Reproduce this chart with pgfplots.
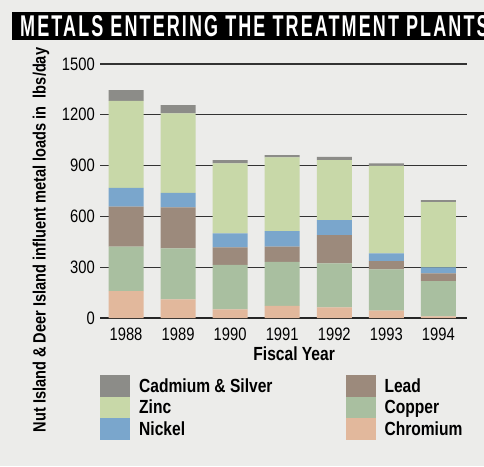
\documentclass[border=0pt]{standalone}
\usepackage{pgfplots}
\pgfplotsset{compat=1.18}
\usepackage{fontspec}
\setmainfont{Liberation Sans}[FakeStretch=0.82]
\newfontfamily\titlefont{Liberation Sans}[FakeStretch=0.6,LetterSpace=7]

\definecolor{bgcol}{HTML}{ECECEA}
\definecolor{cadcol}{HTML}{8C8C88}
\definecolor{zinccol}{HTML}{C8D8A8}
\definecolor{nickcol}{HTML}{7AA6CC}
\definecolor{leadcol}{HTML}{9C8A7C}
\definecolor{coppcol}{HTML}{A9BFA0}
\definecolor{chromcol}{HTML}{E2B89C}

\begin{document}
\begin{tikzpicture}
\fill[bgcol] (0pt,0pt) rectangle (484pt,466pt);
\begin{scope}
  \clip (0pt,0pt) rectangle (484pt,466pt);
  \fill[black] (12pt,426pt) rectangle (484pt,454pt);
  \node[anchor=west, text=white, inner sep=0pt, font=\titlefont\bfseries\fontsize{30}{30}\selectfont]
    at (20pt,440pt) {METALS ENTERING THE TREATMENT PLANTS};
\end{scope}

\node[rotate=90, inner sep=0pt, font=\bfseries\fontsize{17.8}{17.8}\selectfont]
  at (41pt,226pt) {Nut Island \& Deer Island influent metal loads in\ \ lbs/day};

\begin{axis}[
  at={(100pt,148pt)}, anchor=south west,
  scale only axis, width=367pt, height=254pt,
  ybar stacked, bar width=35pt,
  xmin=-0.5, xmax=6.55, ymin=0, ymax=1500,
  xtick={0,...,6},
  xticklabels={1988,1989,1990,1991,1992,1993,1994},
  ytick={0,300,...,1500},
  /pgf/number format/assume math mode=true,
  /pgf/number format/1000 sep={},
  ymajorgrids, grid style={black!80, line width=1.1pt},
  axis x line*=bottom, axis y line*=left,
  y axis line style={draw=none},
  x axis line style={black!85, line width=1.4pt},
  tick style={draw=none},
  ticklabel style={font=\fontsize{18}{18}\selectfont},
  yticklabel style={inner sep=0pt, xshift=-5pt},
  xticklabel style={inner sep=0pt, yshift=-9.5pt},
  xlabel={Fiscal Year},
  xlabel style={at={(axis description cs:0.529,0)}, anchor=center, yshift=-36pt,
    font=\bfseries\fontsize{19}{19}\selectfont},
  legend columns=3, transpose legend, reverse legend,
  legend cell align=left,
  legend image code/.code={\fill[#1] (0pt,-10.75pt) rectangle (30pt,10.75pt);},
  legend style={draw=none, fill=none, at={(0,-0.2244)}, anchor=north west,
    inner sep=0pt, row sep=0pt,
    font=\bfseries\fontsize{19}{19}\selectfont,
    nodes={inner sep=0pt},
    /tikz/every odd column/.append style={column sep=9pt},
    /tikz/every even column/.append style={column sep=73pt}},
]
\addplot[fill=chromcol, draw=none] coordinates {(0,159) (1,110) (2,51) (3,71) (4,63) (5,43) (6,10)};
\addplot[fill=coppcol, draw=none] coordinates {(0,262) (1,301) (2,262) (3,261) (4,260) (5,244) (6,208)};
\addplot[fill=leadcol, draw=none] coordinates {(0,236) (1,242) (2,104) (3,89) (4,167) (5,49) (6,46)};
\addplot[fill=nickcol, draw=none] coordinates {(0,112) (1,86) (2,83) (3,92) (4,88) (5,46) (6,35)};
\addplot[fill=zinccol, draw=none] coordinates {(0,513) (1,469) (2,413) (3,435) (4,354) (5,517) (6,385)};
\addplot[fill=cadcol, draw=none] coordinates {(0,63) (1,49) (2,19) (3,14) (4,20) (5,14) (6,12)};
\legend{Chromium,Copper,Lead,Nickel,Zinc,Cadmium \& Silver}
\end{axis}
\end{tikzpicture}
\end{document}
